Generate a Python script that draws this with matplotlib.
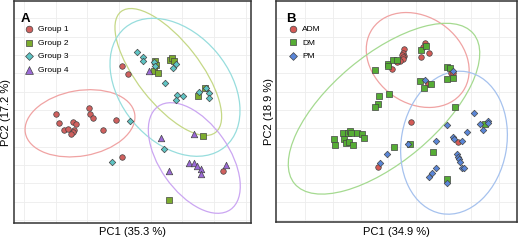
import numpy as np
import matplotlib.pyplot as plt
from matplotlib.patches import Ellipse

plt.rcParams['font.family'] = ['Liberation Sans', 'DejaVu Sans']

# ====== panel A data (scores in plot units, y grows downward) ======
g1_x = [121.7, 127.7, 56, 59.5, 64, 68.5, 73.5, 76.2, 74.3, 72.7, 71, 89.2, 90, 92.7, 103.5, 116, 122, 223.5]
g1_y = [66.3, 74.3, 114, 122.5, 130, 129, 121.8, 123.7, 130.3, 132.3, 134, 107.7, 113.8, 118.2, 130, 119.7, 156.5, 170.8]
g2_x = [155.5, 156.3, 153.7, 158.5, 170, 172.5, 174.3, 205.3, 197.8, 203, 169]
g2_y = [61, 65, 71.2, 72.7, 60, 57.7, 61.2, 87.7, 96, 135.5, 200.2]
g3_x = [137.5, 142.7, 143.3, 154.2, 155, 176, 173.3, 164.7, 177.5, 183.5, 176.2, 198.7, 206.5, 209, 209.5, 130, 164, 112]
g3_y = [51.5, 57, 61, 62, 65.7, 63.7, 68.3, 83.3, 94.7, 95.5, 99.7, 92.2, 87.5, 93.3, 97.7, 121, 149.3, 162.3]
g4_x = [149, 161.3, 193.7, 169.3, 189, 194, 197.2, 201.5, 201.5, 225.8]
g4_y = [70.7, 138.3, 133.5, 170.7, 162.7, 163, 166.2, 169.3, 174, 165.2]
# ellipses: centre x, centre y, half-axes, angle
ellA_cx = [80, 168.3, 175, 194.3]
ellA_cy = [123.3, 72, 87.3, 158]
ellA_a = [55.5, 76.7, 77.7, 63]
ellA_b = [32.7, 31.5, 54.3, 34.7]
ellA_ang = [-10, 52, 50, 55]

# ====== panel B data ======
adm_x = [404.2, 403.3, 404.2, 401.5, 403.3, 402.5, 400, 397.2, 391.8, 425, 422.7, 429.3, 421, 427.7, 450.8, 452.8, 410.7, 457.8, 378]
adm_y = [49.2, 53, 56, 55, 57.3, 59.3, 61, 62.2, 68.7, 43, 46.7, 52.5, 56.7, 83.5, 72.7, 73, 121.7, 141.7, 167.3]
dm_x = [374.8, 387.7, 388, 392.7, 397.3, 421.3, 425.7, 420.2, 424, 430.7, 446.8, 450.2, 447.3, 452.5, 454.5, 388.7, 378.8,
        377.5, 374.7, 393.5, 409.5, 432.8, 485, 447.3,
        334.3, 335, 343.2, 344.3, 346, 347.8, 349.5, 351, 348.8, 352.7, 356.5, 361.5, 364]
dm_y = [69.8, 63.7, 66.3, 60, 60, 50, 46, 81, 87.8, 84.3, 67.3, 68.2, 79.2, 78, 106.7, 93.8, 96.2,
        103.8, 106.5, 147, 144.3, 151.7, 124, 178.8,
        138.8, 145.2, 133.3, 139, 142.8, 132.5, 131.3, 132.7, 142.2, 144.5, 132.7, 134.3, 137.5]
pm_x = [425, 453.3, 474, 479.5, 487.5, 488.3, 482.5, 446.8, 466.5, 452.8, 453.5, 462.2, 436.3, 407.7, 387, 380,
        456.7, 458.3, 459.3, 460, 462.2, 464, 435.5, 431.7, 428.8, 446.7]
pm_y = [80, 71, 112.5, 123.5, 121.2, 123.3, 129.7, 124.5, 131.5, 136.5, 138.8, 141.3, 141.3, 144, 153.7, 163.3,
        154, 156.7, 159.3, 162, 167.7, 168.3, 167.7, 173.2, 176.5, 183]
ellB_cx = [417.7, 384, 454]
ellB_cy = [60, 108.7, 142.7]
ellB_a = [55, 116.7, 72]
ellB_b = [43.3, 53.3, 52.7]
ellB_ang = [35, -40, -80]

W, H = 520, 240
fig = plt.figure(figsize=(5.2, 2.4), dpi=100)
axA = fig.add_axes([14 / W, (H - 223) / H, (251 - 14) / W, 222 / H])
axB = fig.add_axes([276 / W, (H - 222) / H, (517 - 276) / W, 221 / H])


def setup(ax, xlim, ylim, xgrid, ygrid, xlabel, ylabel, tag, tagx, ylx, xly):
    ax.set_xlim(*xlim)
    ax.set_ylim(*ylim)
    ax.set_xticks(xgrid)
    ax.set_yticks(ygrid)
    ax.tick_params(length=0, labelbottom=False, labelleft=False)
    ax.grid(True, color='#ededed', lw=0.6)
    ax.set_axisbelow(True)
    for s in ax.spines.values():
        s.set_color('#333333')
        s.set_linewidth(1.1)
    ax.set_xlabel(xlabel, fontsize=8)
    ax.set_ylabel(ylabel, fontsize=8)
    ax.yaxis.set_label_coords(ylx, 0.5)
    ax.xaxis.set_label_coords(0.5, xly)
    ax.text(tagx, 0.945, tag, transform=ax.transAxes, fontsize=9.5, fontweight='bold', va='top', ha='left')


def ellipses(ax, cx, cy, a, b, ang, colors):
    for i in range(len(cx)):
        ax.add_patch(Ellipse((cx[i], cy[i]), 2 * a[i], 2 * b[i], angle=ang[i],
                             fill=False, ec=colors[i], lw=0.9, zorder=2))


leg_kw = dict(loc='upper left', frameon=False, fontsize=6, handlelength=1.0, handletextpad=0.6,
              labelspacing=0.68, borderaxespad=0, borderpad=0, markerscale=1.2)
kw = dict(edgecolors='#444444', linewidths=0.5, zorder=3)

# ====== panel A ======
setup(axA, (14, 251), (223, 1), np.arange(24, 251, 31.67), np.arange(18.33, 223, 18.33),
      'PC1 (35.3 %)', 'PC2 (17.2 %)', 'A', 0.028, -0.012, -0.017)
ellipses(axA, ellA_cx, ellA_cy, ellA_a, ellA_b, ellA_ang, ['#f0a3a3', '#c5d886', '#97dddd', '#cba6f2'])
axA.scatter(g1_x, g1_y, s=16, marker='o', c='#d0605e', label='Group 1', **kw)
axA.scatter(g2_x, g2_y, s=14, marker='s', c='#7cac2e', label='Group 2', **kw)
axA.scatter(g3_x, g3_y, s=11, marker='D', c='#5ec4c4', label='Group 3', **kw)
axA.scatter(g4_x, g4_y, s=22, marker='^', c='#9b6ad6', label='Group 4', **kw)
axA.legend(bbox_to_anchor=(0.046, 0.89), **leg_kw)

# ====== panel B ======
setup(axB, (276, 517), (222, 1), np.arange(305.3, 517, 27.7), np.arange(18.33, 222, 18.33),
      'PC1 (34.9 %)', 'PC2 (18.9 %)', 'B', 0.04, -0.008, -0.021)
ellipses(axB, ellB_cx, ellB_cy, ellB_a, ellB_b, ellB_ang, ['#f0a3a3', '#a5da90', '#a6c2ee'])
axB.scatter(adm_x, adm_y, s=16, marker='o', c='#d55a56', label='ADM', **kw)
axB.scatter(dm_x, dm_y, s=14, marker='s', c='#56ad35', label='DM', **kw)
axB.scatter(pm_x, pm_y, s=11, marker='D', c='#5a86d8', label='PM', **kw)
axB.legend(bbox_to_anchor=(0.054, 0.89), **leg_kw)

fig.savefig('out.png', dpi=100)
